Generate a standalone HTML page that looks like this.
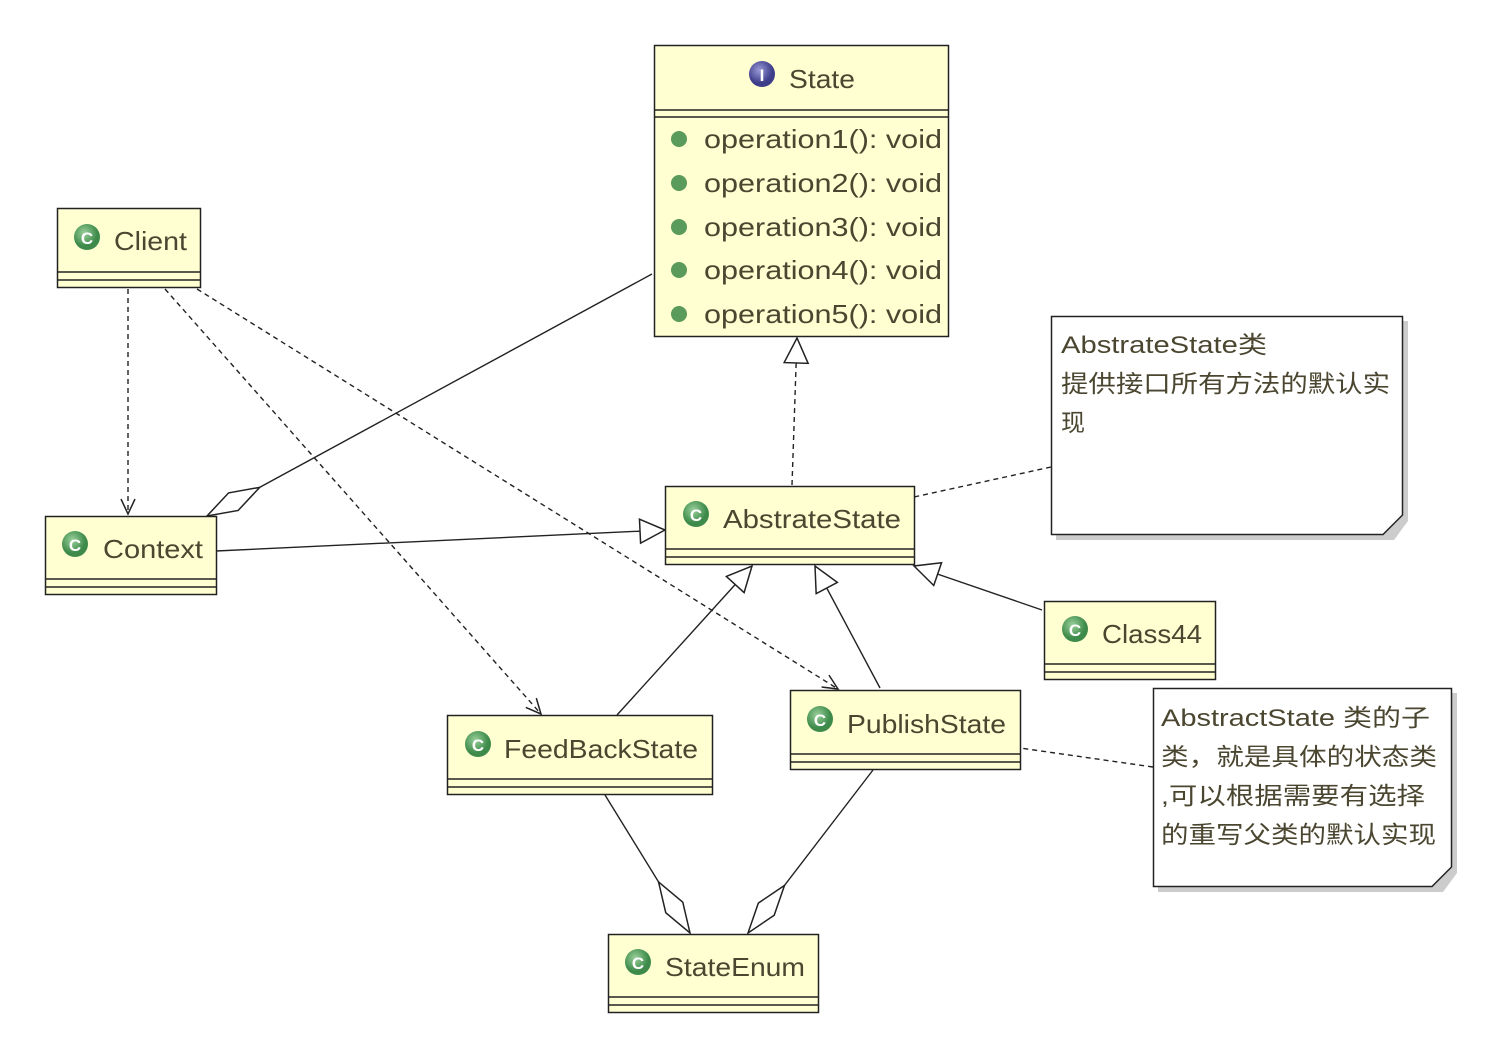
<!DOCTYPE html>
<html><head><meta charset="utf-8"><style>
body{margin:0;background:#fff}
svg{display:block}
text{font-family:"Liberation Sans","Noto Sans CJK SC",sans-serif;fill:#4a4630}
</style></head><body>
<svg width="1512" height="1056" viewBox="0 0 1512 1056" xmlns="http://www.w3.org/2000/svg">
<defs>
<marker id="tri" markerWidth="30" markerHeight="30" refX="26" refY="13" orient="auto" markerUnits="userSpaceOnUse">
<path d="M1,1 L26,13 L1,25 Z" fill="#fff" stroke="#222" stroke-width="1.5"/></marker>
<marker id="arr" markerWidth="20" markerHeight="20" refX="16" refY="8" orient="auto" markerUnits="userSpaceOnUse">
<path d="M1,1 L16,8 L1,15" fill="none" stroke="#222" stroke-width="1.5"/></marker>
<marker id="dia" markerWidth="64" markerHeight="24" refX="61" refY="11" orient="auto" markerUnits="userSpaceOnUse">
<path d="M1,11 L31,1 L61,11 L31,21 Z" fill="#fff" stroke="#222" stroke-width="1.5"/></marker>
<radialGradient id="cg" cx="40%" cy="35%"><stop offset="0" stop-color="#9ad09a"/><stop offset="1" stop-color="#3d8a4a"/></radialGradient>
<radialGradient id="ig" cx="40%" cy="35%"><stop offset="0" stop-color="#9a9ad8"/><stop offset="1" stop-color="#3d3d8a"/></radialGradient>
</defs>

<g stroke="#222" stroke-width="1.4" fill="none">
<line x1="128" y1="289" x2="128" y2="514" stroke-dasharray="5,4" marker-end="url(#arr)"/>
<line x1="165" y1="289" x2="541" y2="714" stroke-dasharray="5,4" marker-end="url(#arr)"/>
<line x1="197" y1="289" x2="838" y2="689" stroke-dasharray="5,4" marker-end="url(#arr)"/>
<line x1="652" y1="274" x2="207" y2="516" marker-end="url(#dia)"/>
<line x1="216" y1="551" x2="665" y2="530" marker-end="url(#tri)"/>
<line x1="792" y1="485" x2="797" y2="338" stroke-dasharray="5,4" marker-end="url(#tri)"/>
<line x1="617" y1="715" x2="752" y2="566" marker-end="url(#tri)"/>
<line x1="880" y1="688" x2="815" y2="566" marker-end="url(#tri)"/>
<line x1="1042" y1="610" x2="914" y2="566" marker-end="url(#tri)"/>
<line x1="1051" y1="467" x2="914" y2="497" stroke-dasharray="5,4"/>
<line x1="1153" y1="767" x2="1020" y2="748" stroke-dasharray="5,4"/>
<line x1="605" y1="795" x2="690" y2="933" marker-end="url(#dia)"/>
<line x1="873" y1="770" x2="748" y2="933" marker-end="url(#dia)"/>
</g>

<g>
<rect x="654.5" y="45.5" width="294" height="291" fill="#ffffd2" stroke="#222" stroke-width="1.5"/>
<line x1="654" y1="110" x2="949" y2="110" stroke="#222" stroke-width="1.5"/>
<line x1="654" y1="117" x2="949" y2="117" stroke="#222" stroke-width="1.5"/>
<circle cx="762" cy="74" r="13" fill="url(#ig)"/>
<text x="762" y="81" font-size="17" font-weight="bold" text-anchor="middle" style="fill:#fff">I</text>
<text x="789" y="88" font-size="26" textLength="66" lengthAdjust="spacingAndGlyphs">State</text>
<g font-size="26">
<circle cx="679" cy="139" r="8" fill="#5a9a5a"/><text x="704" y="148" textLength="238" lengthAdjust="spacingAndGlyphs">operation1(): void</text>
<circle cx="679" cy="183" r="8" fill="#5a9a5a"/><text x="704" y="192" textLength="238" lengthAdjust="spacingAndGlyphs">operation2(): void</text>
<circle cx="679" cy="227" r="8" fill="#5a9a5a"/><text x="704" y="236" textLength="238" lengthAdjust="spacingAndGlyphs">operation3(): void</text>
<circle cx="679" cy="270" r="8" fill="#5a9a5a"/><text x="704" y="279" textLength="238" lengthAdjust="spacingAndGlyphs">operation4(): void</text>
<circle cx="679" cy="314" r="8" fill="#5a9a5a"/><text x="704" y="323" textLength="238" lengthAdjust="spacingAndGlyphs">operation5(): void</text>
</g>
</g>

<g font-size="26">
<g transform="translate(57,208)">
<rect x=".5" y=".5" width="143" height="79" fill="#ffffd2" stroke="#222" stroke-width="1.5"/>
<line x1="0" y1="64" x2="144" y2="64" stroke="#222" stroke-width="1.5"/><line x1="0" y1="72" x2="144" y2="72" stroke="#222" stroke-width="1.5"/>
<circle cx="30" cy="29" r="13" fill="url(#cg)"/><text x="30" y="36" font-size="17" font-weight="bold" text-anchor="middle" style="fill:#fff">C</text>
<text x="57" y="42" textLength="73" lengthAdjust="spacingAndGlyphs">Client</text></g>

<g transform="translate(45,516)">
<rect x=".5" y=".5" width="171" height="78" fill="#ffffd2" stroke="#222" stroke-width="1.5"/>
<line x1="0" y1="63" x2="172" y2="63" stroke="#222" stroke-width="1.5"/><line x1="0" y1="71" x2="172" y2="71" stroke="#222" stroke-width="1.5"/>
<circle cx="30" cy="28" r="13" fill="url(#cg)"/><text x="30" y="35" font-size="17" font-weight="bold" text-anchor="middle" style="fill:#fff">C</text>
<text x="58" y="42" textLength="100" lengthAdjust="spacingAndGlyphs">Context</text></g>

<g transform="translate(665,486)">
<rect x=".5" y=".5" width="249" height="78" fill="#ffffd2" stroke="#222" stroke-width="1.5"/>
<line x1="0" y1="63" x2="250" y2="63" stroke="#222" stroke-width="1.5"/><line x1="0" y1="71" x2="250" y2="71" stroke="#222" stroke-width="1.5"/>
<circle cx="31" cy="28" r="13" fill="url(#cg)"/><text x="31" y="35" font-size="17" font-weight="bold" text-anchor="middle" style="fill:#fff">C</text>
<text x="58" y="42" textLength="178" lengthAdjust="spacingAndGlyphs">AbstrateState</text></g>

<g transform="translate(1044,601)">
<rect x=".5" y=".5" width="171" height="78" fill="#ffffd2" stroke="#222" stroke-width="1.5"/>
<line x1="0" y1="63" x2="172" y2="63" stroke="#222" stroke-width="1.5"/><line x1="0" y1="71" x2="172" y2="71" stroke="#222" stroke-width="1.5"/>
<circle cx="31" cy="28" r="13" fill="url(#cg)"/><text x="31" y="35" font-size="17" font-weight="bold" text-anchor="middle" style="fill:#fff">C</text>
<text x="58" y="42" textLength="100" lengthAdjust="spacingAndGlyphs">Class44</text></g>

<g transform="translate(447,715)">
<rect x=".5" y=".5" width="265" height="79" fill="#ffffd2" stroke="#222" stroke-width="1.5"/>
<line x1="0" y1="64" x2="266" y2="64" stroke="#222" stroke-width="1.5"/><line x1="0" y1="72" x2="266" y2="72" stroke="#222" stroke-width="1.5"/>
<circle cx="31" cy="29" r="13" fill="url(#cg)"/><text x="31" y="36" font-size="17" font-weight="bold" text-anchor="middle" style="fill:#fff">C</text>
<text x="57" y="43" textLength="194" lengthAdjust="spacingAndGlyphs">FeedBackState</text></g>

<g transform="translate(790,690)">
<rect x=".5" y=".5" width="230" height="79" fill="#ffffd2" stroke="#222" stroke-width="1.5"/>
<line x1="0" y1="64" x2="231" y2="64" stroke="#222" stroke-width="1.5"/><line x1="0" y1="72" x2="231" y2="72" stroke="#222" stroke-width="1.5"/>
<circle cx="30" cy="29" r="13" fill="url(#cg)"/><text x="30" y="36" font-size="17" font-weight="bold" text-anchor="middle" style="fill:#fff">C</text>
<text x="57" y="43" textLength="159" lengthAdjust="spacingAndGlyphs">PublishState</text></g>

<g transform="translate(608,934)">
<rect x=".5" y=".5" width="210" height="78" fill="#ffffd2" stroke="#222" stroke-width="1.5"/>
<line x1="0" y1="63" x2="211" y2="63" stroke="#222" stroke-width="1.5"/><line x1="0" y1="71" x2="211" y2="71" stroke="#222" stroke-width="1.5"/>
<circle cx="30" cy="28" r="13" fill="url(#cg)"/><text x="30" y="35" font-size="17" font-weight="bold" text-anchor="middle" style="fill:#fff">C</text>
<text x="57" y="42" textLength="140" lengthAdjust="spacingAndGlyphs">StateEnum</text></g>
</g>

<g>
<path d="M1056,321 L1408,321 L1408,521 L1394,540 L1056,540 Z" fill="#999" opacity="0.5"/>
<path d="M1051.5,316.5 L1402.5,316.5 L1402.5,515 L1383,534.5 L1051.5,534.5 Z" fill="#fff" stroke="#222" stroke-width="1.5"/>
<g font-size="24"><text x="1061" y="353" textLength="206" lengthAdjust="spacingAndGlyphs">AbstrateState类</text>
<text x="1061" y="392" textLength="329" lengthAdjust="spacingAndGlyphs">提供接口所有方法的默认实</text>
<text x="1061" y="431">现</text></g>

<path d="M1158,693 L1457,693 L1457,873 L1443,892 L1158,892 Z" fill="#999" opacity="0.5"/>
<path d="M1153.5,688.5 L1451.5,688.5 L1451.5,867 L1432,886.5 L1153.5,886.5 Z" fill="#fff" stroke="#222" stroke-width="1.5"/>
<g font-size="24"><text x="1161" y="726" textLength="269" lengthAdjust="spacingAndGlyphs">AbstractState 类的子</text>
<text x="1161" y="765" textLength="276" lengthAdjust="spacingAndGlyphs">类，就是具体的状态类</text>
<text x="1161" y="804" textLength="264" lengthAdjust="spacingAndGlyphs">,可以根据需要有选择</text>
<text x="1161" y="843" textLength="275" lengthAdjust="spacingAndGlyphs">的重写父类的默认实现</text></g>
</g>
</svg>
</body></html>
